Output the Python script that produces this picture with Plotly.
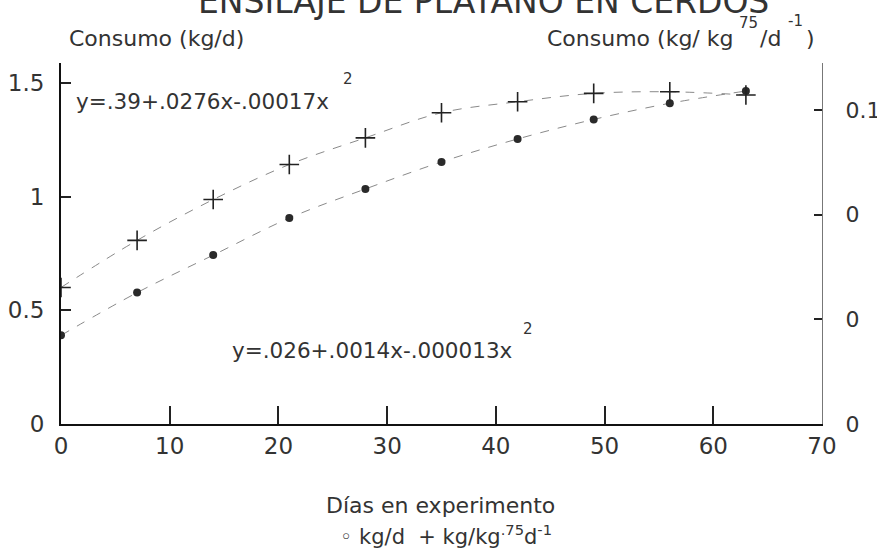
import plotly.graph_objects as go

# ---- data ----
dias = [0, 7, 14, 21, 28, 35, 42, 49, 56, 63]
consumo_kg_d = [0.39, 0.578, 0.743, 0.906, 1.034, 1.153, 1.254, 1.340, 1.411, 1.465]
consumo_kg_kg75_d = [0.0261, 0.0351, 0.0429, 0.0496, 0.0547, 0.0595, 0.0616, 0.0632, 0.0635, 0.0629]

x_tickvals = [0, 10, 20, 30, 40, 50, 60, 70]
x_ticktext = ["0", "10", "20", "30", "40", "50", "60", "70"]
yl_tickvals = [0, 0.5, 1, 1.5]
yl_ticktext = ["0", "0.5", "1", "1.5"]
yr_tickvals = [0, 0.02, 0.04, 0.06]
yr_ticktext = ["0", "0", "0", "0.1"]

FONT = "DejaVu Sans"
TXT = "#333333"

# plot-area pixel frame
L, R, T, B = 61, 822, 63, 424
W, H = 877, 549


def px(x):
    return (x - L) / (R - L)


def py(y):
    return (B - y) / (B - T)


fig = go.Figure()

fig.add_trace(go.Scatter(
    x=dias, y=consumo_kg_d, mode="lines+markers", name="kg/d",
    line=dict(color="#8a8a8a", width=1, dash="dash", shape="spline"),
    marker=dict(symbol="circle", size=8, color="#2a2a2a"),
    showlegend=False,
))
fig.add_trace(go.Scatter(
    x=dias, y=consumo_kg_kg75_d, mode="lines+markers", name="kg/kg.75 d-1",
    yaxis="y2",
    line=dict(color="#8a8a8a", width=1, dash="dash", shape="spline"),
    marker=dict(symbol="cross-thin", size=14, color="#222222",
                line=dict(width=1.6, color="#222222")),
    showlegend=False,
))

tickfont = dict(family=FONT, size=23, color=TXT)

fig.update_layout(
    width=W, height=H,
    margin=dict(l=L, r=W - R, t=T, b=H - B, autoexpand=False),
    paper_bgcolor="white", plot_bgcolor="white",
    showlegend=False,
    xaxis=dict(
        range=[0, 70], tickvals=x_tickvals, ticktext=x_ticktext,
        ticks="inside", ticklen=18, tickwidth=1.5, tickcolor="#222",
        showline=True, linecolor="#111", linewidth=2,
        showgrid=False, zeroline=False, tickfont=tickfont,
        ticklabelstandoff=0, automargin=False,
    ),
    yaxis=dict(
        range=[0, (B - T) / 227.3], tickvals=yl_tickvals, ticktext=yl_ticktext,
        ticks="inside", ticklen=10, tickwidth=1.5, tickcolor="#222",
        showline=True, linecolor="#111", linewidth=2,
        showgrid=False, zeroline=False, tickfont=tickfont,
        ticklabelstandoff=10, automargin=False,
    ),
    yaxis2=dict(
        overlaying="y", side="right",
        range=[0, (B + 1 - T) / 5246.0], tickvals=yr_tickvals, ticktext=yr_ticktext,
        ticks="inside", ticklen=8, tickwidth=1.5, tickcolor="#222",
        showline=True, linecolor="#777", linewidth=1,
        showgrid=False, zeroline=False,
        tickfont=dict(family=FONT, size=22, color=TXT),
        ticklabelstandoff=18, automargin=False,
    ),
)


def ann(text, x, y, size, xanchor="left", color=TXT):
    fig.add_annotation(text=text, xref="paper", yref="paper", x=px(x), y=py(y),
                       xanchor=xanchor, yanchor="middle", showarrow=False,
                       font=dict(family=FONT, size=size, color=color))


# title (cut off at the top in the original)
ann("ENSILAJE DE PLATANO EN CERDOS", 483, 1, 33, "center")
# axis titles
ann("Consumo (kg/d)", 67, 38, 22)
ann("Consumo (kg/ kg", 735, 38, 22, "right")
ann("75", 737, 23, 15)
ann("/d", 758, 38, 22)
ann("-1", 786, 21, 15)
ann(")", 804, 38, 22)
# regression equations
ann("y=.39+.0276x-.00017x", 74, 102, 21.5)
ann("2", 348, 79, 15, "center")
ann("y=.026+.0014x-.000013x", 230, 350, 21.5)
ann("2", 528, 329, 15, "center")
# x title and legend
ann("Días en experimento", 440, 505, 22, "center")
ann("◦ kg/d  + kg/kg<sup>.75</sup>d<sup>-1</sup>", 446, 535, 21, "center")

fig.write_html("out.html", config={"displayModeBar": False},
               post_script="document.body.style.margin='0px';")
